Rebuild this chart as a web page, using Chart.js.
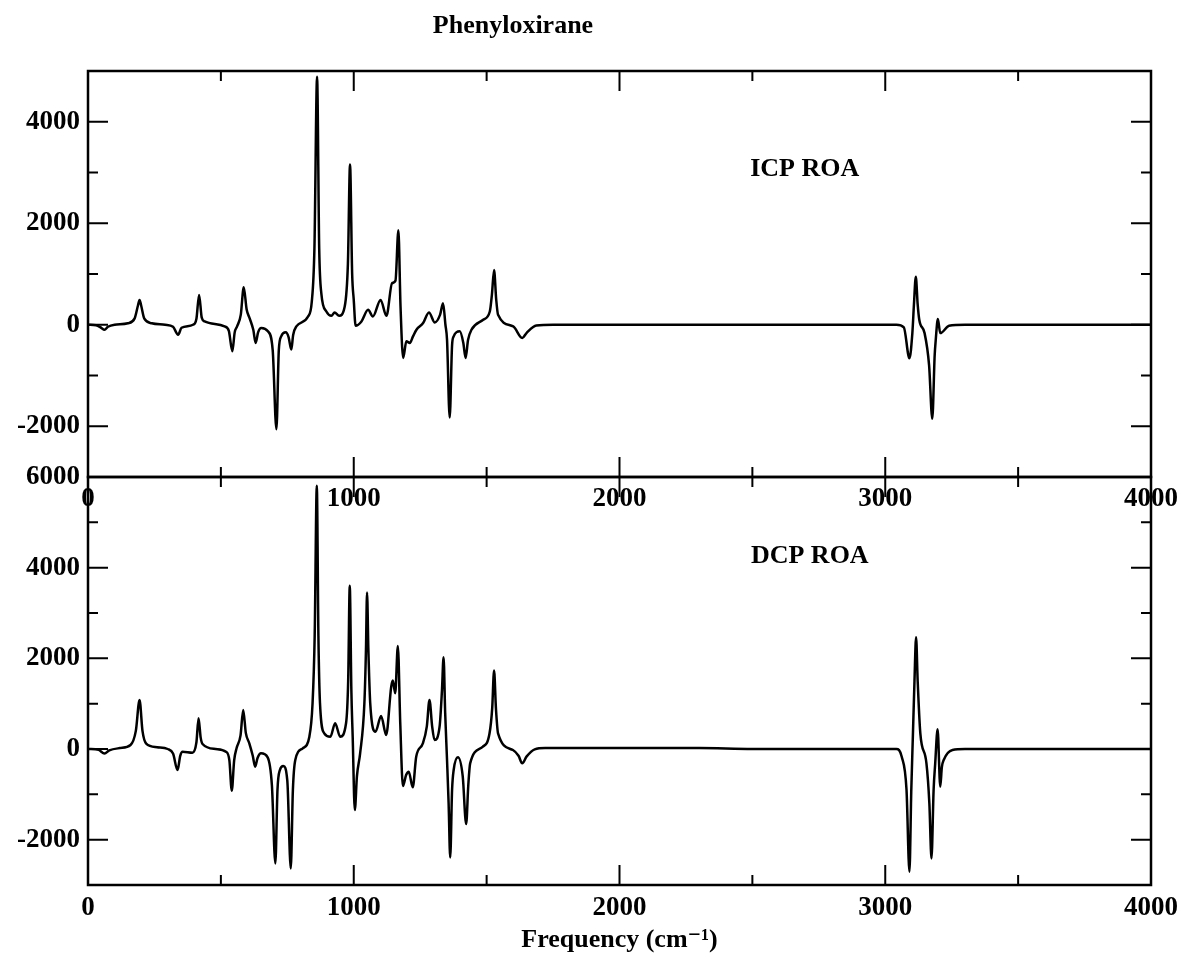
<!DOCTYPE html>
<html>
<head>
<meta charset="utf-8">
<script src="https://cdn.jsdelivr.net/npm/chart.js@4"></script>
<style>
  body { margin: 0; background: #fff; }
  #wrap { position: relative; width: 1181px; height: 960px; }
  canvas { position: absolute; left: 0; }
  #topChart { top: 0; }
  #bottomChart { top: 440px; }
</style>
</head>
<body>
<div id="wrap">
  <canvas id="topChart" width="1181" height="530"></canvas>
  <canvas id="bottomChart" width="1181" height="520"></canvas>
</div>
<script>
// ICP ROA trace
const icpFreq = [0, 30, 50, 62, 75, 100, 150, 175, 188, 194, 200, 212, 240, 290, 320, 339, 352, 395, 408, 418, 428, 439,
  514, 530, 543, 552, 561, 575, 586, 597, 608, 622, 631, 640, 652, 677, 695, 709, 718, 727, 744, 755, 765, 772, 784,
  828, 842, 852, 862, 870, 878, 897, 916, 928, 945, 966, 978, 986, 994, 1000, 1007, 1029, 1054, 1072, 1101, 1123,
  1144, 1157, 1168, 1176, 1186, 1198, 1211, 1223, 1236, 1261, 1283, 1305, 1325, 1336, 1345, 1351, 1361, 1370, 1376,
  1399, 1412, 1421, 1430, 1443, 1487, 1512, 1520, 1528, 1536, 1543, 1600, 1634, 1650, 1687, 1750,
  3042, 3070, 3091, 3102, 3108, 3115, 3122, 3128, 3148, 3165, 3177, 3186, 3190, 3198, 3207, 3240, 3300, 4000];
const icpRoa = [0, -10, -60, -100, -40, 0, 30, 120, 380, 490, 380, 120, 30, 0, -40, -196, -60, 0, 120, 588, 140, 65,
  -33, -120, -522, -150, -33, 200, 739, 300, 131, -100, -359, -150, -65, -130, -500, -2058, -500, -229, -150, -250, -490, -200, -33,
  163, 450, 1500, 4887, 1500, 620, 261, 176, 242, 176, 360, 1200, 3156, 1000, 490, -20, 65, 294, 163, 490, 176,
  817, 869, 1862, 360, -653, -326, -359, -229, -98, 33, 242, 46, 200, 425, 0, -294, -1829, -400, -229,
  -130, -350, -653, -300, -98, 98, 261, 600, 1078, 500, 196, -33, -261, -163, -13, 0,
  0, -50, -662, -165, 400, 947, 400, 99, -165, -800, -1854, -600, -298, 113, -165, -20, 0, 0];

// DCP ROA trace
const dcpFreq = [0, 40, 62, 80, 120, 160, 180, 194, 205, 219, 260, 300, 320, 337, 347, 356, 393, 408, 416, 424, 431, 480,
  519, 532, 541, 550, 559, 574, 584, 594, 607, 620, 629, 638, 651, 676, 692, 705, 713, 722, 735, 750, 763, 771, 780,
  808, 833, 845, 853, 861, 867, 873, 889, 912, 930, 949, 971, 979, 985, 991, 996, 1004, 1012, 1024, 1040, 1046, 1050,
  1055, 1062, 1082, 1103, 1122, 1141, 1147, 1156, 1166, 1175, 1185, 1197, 1207, 1222, 1235, 1260, 1275, 1285, 1295,
  1304, 1323, 1332, 1338, 1344, 1351, 1357, 1363, 1370, 1376, 1392, 1410, 1423, 1431, 1438, 1486, 1511, 1521, 1528,
  1535, 1543, 1599, 1620, 1634, 1650, 1681, 1720, 2300, 2500,
  3042, 3062, 3080, 3091, 3098, 3104, 3110, 3116, 3122, 3132, 3155, 3166, 3174, 3182, 3188, 3197, 3207, 3213, 3220, 3253, 3300, 4000];
const dcpRoa = [0, -20, -100, -30, 20, 88, 400, 1080, 400, 120, 40, 0, -100, -464, -150, -59, -81, 150, 677, 250, 110, 0,
  -59, -250, -920, -250, 15, 300, 861, 350, 125, -150, -390, -200, -96, -184, -800, -2524, -900, -464, -375, -700, -2634, -900, -243,
  15, 272, 1008, 2500, 5806, 2500, 1008, 346, 272, 567, 272, 567, 1500, 3599, 1300, 272, -1347, -600, -96, 1008, 2200, 3451,
  2200, 1008, 383, 729, 309, 1376, 1509, 1229, 2274, 567, -817, -574, -500, -846, -169, 125, 500, 1082, 500,
  199, 493, 1300, 2024, 800, -243, -1200, -2392, -900, -464, -184, -600, -1656, -800, -316, 52, 346, 900, 1729,
  900, 346, -22, -150, -316, -169, -7, 20, 20, 0,
  0, -170, -900, -2708, -900, 300, 1500, 2465, 1500, 346, -316, -1200, -2414, -900, -316, 434, -832, -400, -243, -22, 0, 0];

const xLabels = [0, 1000, 2000, 3000, 4000];
const icpYLabels = [-2000, 0, 2000, 4000];
const dcpYLabels = [-2000, 0, 2000, 4000, 6000];

const serif = "'Liberation Serif', 'DejaVu Serif', serif";
const tickFont = { family: serif, size: 27, weight: 'bold' };

// Frame with inward ticks on all four sides, plus the panel texts
const frameTicks = {
  id: 'frameTicks',
  afterDatasetsDraw(chart, args, opts) {
    const { ctx, chartArea: a, scales: { x, y } } = chart;
    ctx.save();
    ctx.strokeStyle = '#000';
    ctx.lineWidth = 2;
    ctx.beginPath();
    x.ticks.forEach(t => {
      const px = x.getPixelForValue(t.value);
      const len = t.value % 1000 === 0 ? 20 : 10;
      ctx.moveTo(px, a.bottom); ctx.lineTo(px, a.bottom - len);
      ctx.moveTo(px, a.top); ctx.lineTo(px, a.top + len);
    });
    y.ticks.forEach(t => {
      const py = y.getPixelForValue(t.value);
      const len = t.value % 2000 === 0 ? 20 : 10;
      ctx.moveTo(a.left, py); ctx.lineTo(a.left + len, py);
      ctx.moveTo(a.right, py); ctx.lineTo(a.right - len, py);
    });
    ctx.stroke();
    ctx.lineWidth = 2.5;
    ctx.strokeRect(a.left, a.top, a.right - a.left, a.bottom - a.top);

    ctx.fillStyle = '#000';
    ctx.font = 'bold 26px ' + serif;
    ctx.textAlign = 'center';
    ctx.textBaseline = 'alphabetic';
    ctx.fillText(opts.label, x.getPixelForValue(opts.labelAt[0]), y.getPixelForValue(opts.labelAt[1]));
    if (opts.heading) {
      ctx.fillText(opts.heading, 513, 33);
    }
    ctx.restore();
  }
};

function makeChart(id, freq, values, yMin, yMax, yLabels, pad, xHeight, xPad, extra) {
  return new Chart(document.getElementById(id), {
    type: 'line',
    data: {
      datasets: [{
        data: freq.map((f, i) => ({ x: f, y: values[i] })),
        borderColor: '#000',
        borderWidth: 2.5,
        pointRadius: 0,
        pointHoverRadius: 0,
        pointHitRadius: 0,
        fill: false,
        cubicInterpolationMode: 'monotone',
      }],
    },
    options: {
      responsive: false,
      animation: false,
      events: [],
      layout: { padding: pad },
      plugins: {
        legend: { display: false },
        tooltip: { enabled: false },
        frameTicks: extra.frame,
      },
      scales: {
        x: {
          type: 'linear',
          min: 0,
          max: 4000,
          grid: { display: false, drawTicks: false },
          border: { display: false },
          ticks: {
            stepSize: 500,
            autoSkip: false,
            maxRotation: 0,
            padding: xPad,
            color: '#000',
            font: tickFont,
            callback: v => (xLabels.includes(v) ? String(v) : ''),
          },
          title: extra.xTitle || { display: false },
          afterFit: s => {
            s.height = xHeight;
            s.paddingLeft = 0;
            s.paddingRight = 30;
          },
        },
        y: {
          min: yMin,
          max: yMax,
          grid: { display: false, drawTicks: false },
          border: { display: false },
          ticks: {
            stepSize: 1000,
            autoSkip: false,
            padding: 8,
            color: '#000',
            font: tickFont,
            callback: v => (yLabels.includes(v) ? String(v) : ''),
          },
          afterFit: s => { s.width = 88; },
        },
      },
    },
    plugins: [frameTicks],
  });
}

// Upper panel: ICP ROA
makeChart('topChart', icpFreq, icpRoa, -3000, 5000, icpYLabels,
  { top: 71, right: 30, left: 0, bottom: 0 }, 53, 6,
  { frame: { label: 'ICP ROA', labelAt: [2697, 2940], heading: 'Phenyloxirane' } });

// Lower panel: DCP ROA
makeChart('bottomChart', dcpFreq, dcpRoa, -3000, 6000, dcpYLabels,
  { top: 37, right: 30, left: 0, bottom: 0 }, 75, 7,
  {
    frame: { label: 'DCP ROA', labelAt: [2716, 4110] },
    xTitle: {
      display: true,
      text: 'Frequency (cm\u207B\u00B9)',
      color: '#000',
      font: { family: serif, size: 26, weight: 'bold' },
      padding: { top: 0, bottom: 4 },
    },
  });
</script>
</body>
</html>
